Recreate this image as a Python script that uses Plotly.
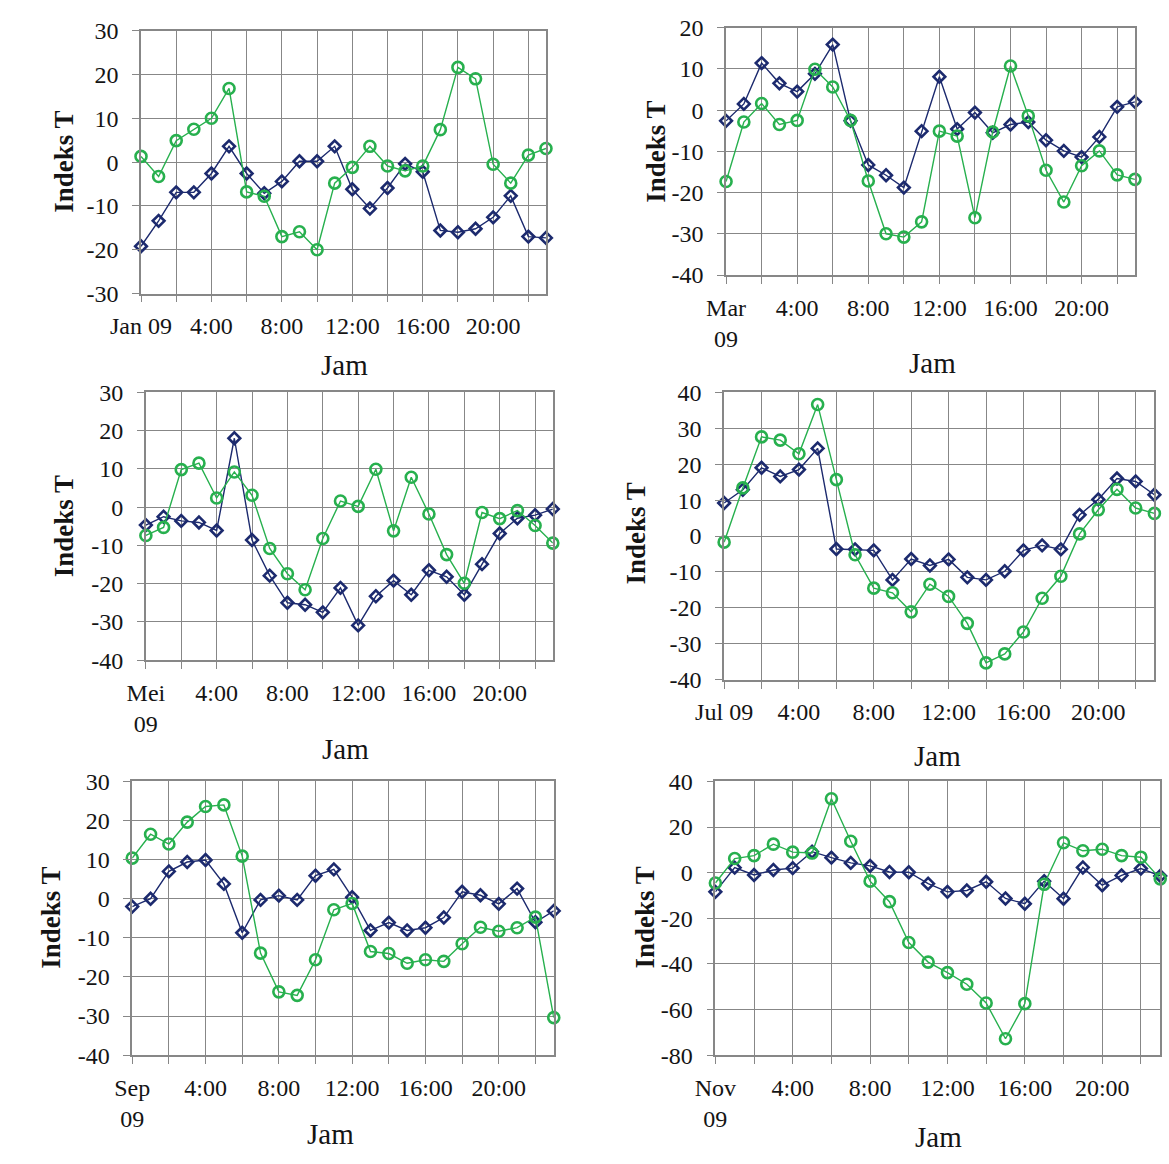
import plotly.graph_objects as go

hours = list(range(24))

jan_blue = [-19.2, -13.4, -6.9, -6.9, -2.6, 3.6, -2.6, -7.1, -4.4, 0.2, 0.2, 3.6,
            -6.2, -10.6, -5.9, -0.4, -2.2, -15.6, -16.0, -15.2, -12.6, -7.7, -17.0, -17.3]
jan_green = [1.3, -3.3, 4.9, 7.5, 10.0, 16.8, -6.8, -7.8, -17.0, -15.9, -20.0, -4.8,
             -1.2, 3.6, -0.9, -2.0, -0.9, 7.4, 21.6, 19.0, -0.5, -4.8, 1.6, 3.1]

mar_blue = [-2.6, 1.5, 11.4, 6.5, 4.5, 8.8, 15.9, -2.6, -13.3, -15.8, -18.8, -5.1,
            8.1, -4.6, -0.6, -5.5, -3.5, -2.9, -7.3, -9.9, -11.4, -6.5, 0.8, 2.0]
mar_green = [-17.3, -2.9, 1.6, -3.5, -2.5, 9.9, 5.6, -2.5, -17.2, -30.0, -30.8, -27.1,
             -5.1, -6.3, -26.1, -5.3, 10.7, -1.4, -14.6, -22.3, -13.5, -9.9, -15.7, -16.8]

mei_blue = [-4.7, -2.5, -3.6, -4.0, -6.1, 18.0, -8.6, -17.9, -25.0, -25.5, -27.5, -21.1,
            -30.9, -23.3, -19.2, -22.9, -16.5, -18.2, -22.9, -14.9, -6.9, -2.9, -2.1, -0.5]
mei_green = [-7.4, -5.3, 9.8, 11.5, 2.4, 9.2, 3.1, -10.8, -17.4, -21.6, -8.2, 1.6,
             0.2, 9.9, -6.2, 7.8, -1.8, -12.4, -19.9, -1.4, -3.0, -0.9, -4.8, -9.4]

jul_blue = [9.2, 12.9, 19.0, 16.6, 18.5, 24.4, -3.6, -3.7, -4.0, -12.2, -6.4, -8.2,
            -6.5, -11.5, -12.2, -9.8, -4.0, -2.6, -3.7, 5.9, 10.2, 16.0, 15.2, 11.5]
jul_green = [-1.7, 13.4, 27.6, 26.7, 22.9, 36.6, 15.7, -5.2, -14.5, -15.8, -21.1, -13.4,
             -16.8, -24.3, -35.3, -32.8, -26.7, -17.3, -11.2, 0.6, 7.3, 13.0, 7.8, 6.3]

sep_blue = [-2.0, 0.0, 7.0, 9.4, 9.9, 3.8, -8.7, -0.3, 0.8, -0.3, 5.9, 7.5,
            0.4, -8.1, -6.1, -8.1, -7.4, -4.8, 1.8, 0.9, -1.3, 2.6, -6.0, -3.1]
sep_green = [10.4, 16.5, 14.0, 19.6, 23.6, 24.0, 10.9, -13.9, -23.8, -24.7, -15.6, -2.8,
             -1.2, -13.5, -14.0, -16.5, -15.6, -16.0, -11.5, -7.3, -8.3, -7.4, -4.7, -30.4]

nov_blue = [-8.4, 2.2, -1.0, 1.2, 2.0, 9.2, 6.6, 4.3, 3.0, 0.3, 0.2, -4.8,
            -8.4, -7.8, -4.0, -11.3, -13.6, -3.7, -11.4, 2.3, -5.5, -1.2, 1.8, -1.4]
nov_green = [-4.5, 6.2, 7.5, 12.5, 9.0, 8.6, 32.4, 13.8, -3.7, -12.7, -30.6, -39.2,
             -43.8, -48.9, -57.1, -72.8, -57.4, -5.1, 13.1, 9.6, 10.3, 7.5, 6.8, -2.7]

x_tick_vals = [0, 2, 4, 6, 8, 10, 12, 14, 16, 18, 20, 22]

W, H = 1169, 1164
BLUE = "#1c2a6e"
GREEN = "#27b04e"
GRID = "#878787"
FONT = "Liberation Serif"
TXT = "#141414"

# first x label, series, y range, y step, plot box (left, right, top, bottom px),
# y-title centre (x, y), x-title centre (x, y)
panels = [
    ("Jan 09", jan_blue, jan_green, (-30, 30), 10, (113, 529, 18, 287), (33, 152), (322, 360)),
    ("Mar<br>09", mar_blue, mar_green, (-40, 20), 10, (714, 1134, 15, 268), (642, 142), (926, 358)),
    ("Mei<br>09", mei_blue, mei_green, (-40, 30), 10, (118, 536, 388, 662), (34, 525), (323, 753)),
    ("Jul 09", jul_blue, jul_green, (-40, 40), 10, (712, 1154, 388, 682), (622, 533), (931, 760)),
    ("Sep<br>09", sep_blue, sep_green, (-40, 30), 10, (104, 537, 786, 1066), (21, 925), (308, 1147)),
    ("Nov<br>09", nov_blue, nov_green, (-80, 40), 20, (703, 1160, 786, 1066), (631, 925), (932, 1150)),
]

fig = go.Figure()
annotations = []
for i, (first, blue, green, yr, ystep, box, ytc, xtc) in enumerate(panels):
    n = "" if i == 0 else str(i + 1)
    xa, ya = "x" + n, "y" + n
    l, r, t, b = box
    ticktext = [first if v == 0 else (f"{v}:00" if v % 4 == 0 else "") for v in x_tick_vals]
    yvals = list(range(yr[0], yr[1] + 1, ystep))
    fig.add_trace(go.Scatter(
        x=hours, y=blue, xaxis=xa, yaxis=ya, mode="lines+markers",
        line=dict(color=BLUE, width=1.4),
        marker=dict(symbol="diamond-open", size=9, color=BLUE, line=dict(width=2.6, color=BLUE)),
        showlegend=False, cliponaxis=False))
    fig.add_trace(go.Scatter(
        x=hours, y=green, xaxis=xa, yaxis=ya, mode="lines+markers",
        line=dict(color=GREEN, width=1.4),
        marker=dict(symbol="circle-open", size=11, color=GREEN, line=dict(width=2.6, color=GREEN)),
        showlegend=False, cliponaxis=False))
    fig.layout["xaxis" + n] = dict(
        domain=[l / W, r / W], anchor=ya, range=[0, 23],
        tickmode="array", tickvals=x_tick_vals, ticktext=ticktext,
        showgrid=True, gridcolor=GRID, gridwidth=1.3,
        showline=True, linecolor=GRID, linewidth=1.5, mirror=True,
        ticks="outside", ticklen=7, tickcolor=GRID, tickwidth=1.3,
        ticklabelstandoff=3, zeroline=False,
        tickfont=dict(family=FONT, size=24, color=TXT))
    fig.layout["yaxis" + n] = dict(
        domain=[1 - b / H, 1 - t / H], anchor=xa, range=list(yr),
        tickmode="array", tickvals=yvals, ticktext=[str(v) for v in yvals],
        showgrid=True, gridcolor=GRID, gridwidth=1.3,
        showline=True, linecolor=GRID, linewidth=1.5, mirror=True,
        ticks="outside", ticklen=7, tickcolor=GRID, tickwidth=1.3,
        ticklabelstandoff=9, zeroline=False,
        tickfont=dict(family=FONT, size=24, color=TXT))
    annotations.append(dict(
        text="<b>Indeks T</b>", x=ytc[0] / W, y=1 - ytc[1] / H, xref="paper", yref="paper",
        textangle=-90, showarrow=False, xanchor="center", yanchor="middle",
        font=dict(family=FONT, size=27, color=TXT)))
    annotations.append(dict(
        text="Jam", x=xtc[0] / W, y=1 - xtc[1] / H, xref="paper", yref="paper",
        showarrow=False, xanchor="center", yanchor="middle",
        font=dict(family=FONT, size=29, color=TXT)))

fig.update_layout(
    width=W, height=H, margin=dict(l=0, r=0, t=0, b=0),
    paper_bgcolor="white", plot_bgcolor="white",
    annotations=annotations, font=dict(family=FONT, color=TXT))

fig.write_html("out.html")
